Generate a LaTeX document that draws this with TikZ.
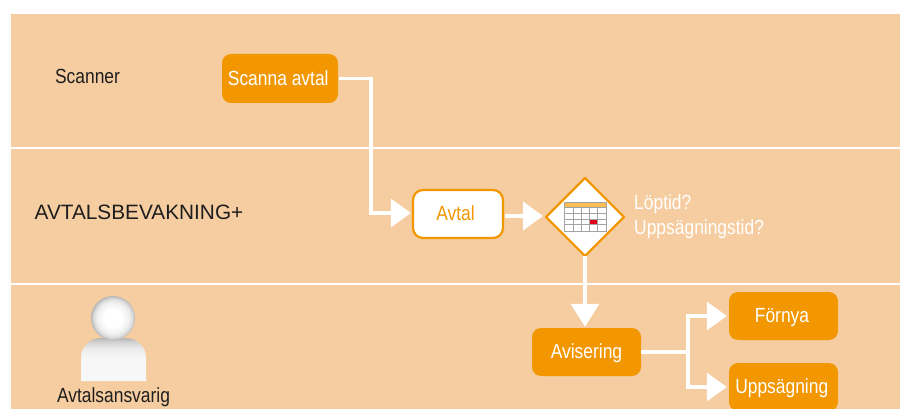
\documentclass[tikz,border=0pt]{standalone}
\usepackage{fontspec}
\setmainfont{Liberation Sans}
\newfontfamily\condfont[FakeStretch=0.85]{Liberation Sans}
\usetikzlibrary{arrows.meta,calc}
\definecolor{bandcol}{HTML}{F5CDA0}
\definecolor{orangecol}{HTML}{F39700}
\definecolor{calgrey}{HTML}{A3A3A3}
\definecolor{calhead}{HTML}{FDBE55}
\definecolor{calred}{HTML}{E2001A}
\definecolor{inkcol}{HTML}{1E1E1E}
\pgfdeclareverticalshading{bodyshade}{100bp}{
  color(0bp)=(black!3); color(50bp)=(black!3); color(62bp)=(black!7); color(70bp)=(black!17); color(75bp)=(black!28); color(100bp)=(black!28)}
\pgfdeclareradialshading{headshade}{\pgfpoint{0bp}{0bp}}{
  color(0bp)=(white); color(10bp)=(white); color(18bp)=(black!6); color(22bp)=(black!14); color(25bp)=(black!28); color(50bp)=(black!28)}
\tikzset{
  boxfont/.style={font=\condfont\fontsize{20.5}{20.5}\selectfont},
  fillbox/.style={draw=none,fill=orangecol,rounded corners=9pt,text=white,inner sep=0pt,text height=13.5pt,text depth=0pt,boxfont},
  whitebox/.style={draw=orangecol,line width=2.2pt,fill=white,rounded corners=10pt,text=orangecol,inner sep=0pt,text height=13.5pt,text depth=0pt,boxfont},
  flow/.style={draw=white,line width=3.3pt,-{Triangle[width=28pt,length=20pt]}},
  downflow/.style={draw=white,line width=3.3pt,-{Triangle[width=28pt,length=23pt]}},
  plainflow/.style={draw=white,line width=3.3pt},
  sep/.style={draw=white,line width=2pt},
  lbl/.style={inner sep=0pt,text=inkcol,anchor=base,boxfont},
  note/.style={inner sep=0pt,text=white,anchor=base west,boxfont},
}
\begin{document}
\begin{tikzpicture}[x=1pt,y=-1pt]
\useasboundingbox (0,0) rectangle (900,409);
\clip (0,0) rectangle (900,409);
\fill[white] (0,0) rectangle (900,409);
\fill[bandcol] (11,14) rectangle (900,409);
\draw[sep] (11,148) -- (900,148);
\draw[sep] (11,284) -- (900,284);
% lane labels
\node[lbl] (scannerlbl) at (87.5,83.5) {Scanner};
\node[lbl,font=\fontsize{20.8}{20.8}\selectfont] (bevlbl) at (139,219) {AVTALSBEVAKNING+};
\node[lbl] (anslbl) at (113.5,402) {Avtalsansvarig};
% person
\shade[shading=bodyshade]
  (81,381) -- (81,358) to[out=90,in=180] (101,338) -- (126,338) to[out=0,in=90] (146,358) -- (146,381) -- cycle;
\shade[shading=headshade] (113,318) circle[radius=22];
% boxes
\node[fillbox,minimum width=116pt,minimum height=49pt] (scan) at (280,78.5) {\hspace*{-3.5pt}Scanna avtal};
\node[whitebox,minimum width=90pt,minimum height=48pt] (avtal) at (458,214) {\hspace*{-5pt}Avtal};
\node[fillbox,minimum width=109pt,minimum height=48pt] (avis) at (586.5,352) {Avisering};
\node[fillbox,minimum width=109pt,minimum height=48pt] (fornya) at (783.5,316) {\hspace*{-3pt}Förnya};
\node[fillbox,minimum width=109pt,minimum height=48pt] (upps) at (783.5,387) {\hspace*{-3.5pt}Uppsägning};
% decision diamond
\draw[orangecol,line width=2.4pt,fill=white,line join=round] (585,178) coordinate (dt) -- (624,217) coordinate (dr) -- (585,256) coordinate (db) -- (546,217) coordinate (dl) -- cycle;
% calendar
\fill[calhead] (565,203) rectangle (606,207.5);
\fill[calred] (590,219) rectangle (597,224);
\foreach \cx in {573.2,581.4,589.6,597.8}{\draw[calgrey,line width=0.8pt] (\cx,207.5) -- (\cx,230.5);}
\foreach \cy in {207.5,213.3,219,224.8}{\draw[calgrey,line width=0.8pt] (565,\cy) -- (606,\cy);}
\draw[calgrey,line width=1pt] (564.5,202.5) rectangle (606.5,231);
% notes
\node[note] (n1) at (634,210) {Löptid?};
\node[note] (n2) at (634,234) {Uppsägningstid?};
% connectors
\coordinate (bend) at (371,79);
\coordinate (junction) at (688,352);
\draw[flow] (scan.east) ++(1,0) -| (bend) |- ($(avtal.west)+(-1,-1)$);
\draw[flow] ($(avtal.east)+(1,2)$) -- ($(dl)+(-3,-1)$);
\draw[downflow] (db) -- ($(avis.north)+(-1.5,-1)$);
\draw[plainflow] (avis.east) -- (junction);
\draw[flow] (junction) |- ($(fornya.west)+(-2,0)$);
\draw[flow] (junction) |- ($(upps.west)+(-2,0)$);
\end{tikzpicture}
\end{document}
